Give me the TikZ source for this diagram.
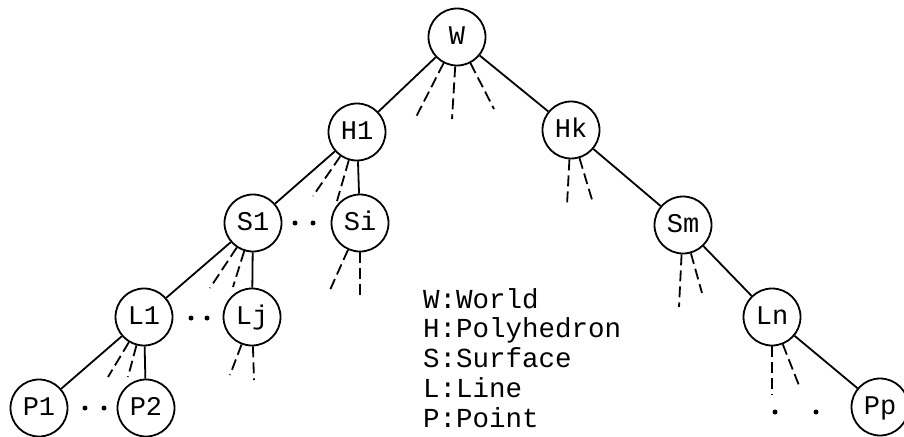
\documentclass[tikz,border=0pt]{standalone}
\usepackage{fontspec}
\setmonofont{Liberation Mono}
\usepackage{tikz}
\usetikzlibrary{positioning}

\tikzset{
    obj/.style={circle, draw, line width=1.8pt, minimum size=57pt, inner sep=0pt,
        text height=15pt, text depth=0pt, font=\ttfamily\fontsize{27}{27}\selectfont},
    link/.style={line width=1.8pt},
    more/.style={line width=1.8pt, dash pattern=on 11pt off 5pt},
    dotmark/.style={circle, fill, inner sep=0pt, minimum size=5pt}
}

\begin{document}
\begin{tikzpicture}[x=1pt, y=-1pt]
    \useasboundingbox (0,0) rectangle (904,436);

    % Objects
    \node[obj] (W)  at (457,37)  {W};
    \node[obj] (H1) at (357,132) {H1};
    \node[obj] (Hk) at (571,130) {Hk};
    \node[obj] (S1) at (253,223) {S1};
    \node[obj] (Si) at (360,223) {Si};
    \node[obj] (Sm) at (683,225) {Sm};
    \node[obj] (L1) at (144,317) {L1};
    \node[obj] (Lj) at (252,317) {Lj};
    \node[obj] (Ln) at (772,317) {Ln};
    \node[obj] (P1) at (39,408)  {P1};
    \node[obj] (P2) at (146,408) {P2};
    \node[obj] (Pp) at (880,407) {Pp};

    % Links
    \draw[link] (W) -- (H1);
    \draw[link] (W) -- (Hk);
    \draw[link] (H1) -- (S1);
    \draw[link] (H1) -- (Si);
    \draw[link] (S1) -- (L1);
    \draw[link] (S1) -- (Lj);
    \draw[link] (L1) -- (P1);
    \draw[link] (L1) -- (P2);
    \draw[link] (Hk) -- (Sm);
    \draw[link] (Sm) -- (Ln);
    \draw[link] (Ln) -- (Pp);

    % Other children
    \coordinate (w1) at (416,117);
    \coordinate (w2) at (452,119);
    \coordinate (w3) at (494,109);
    \coordinate (h1) at (313,196);
    \coordinate (h2) at (337,201);
    \coordinate (hk1) at (567,205);
    \coordinate (hk2) at (593,203);
    \coordinate (s1) at (210,288);
    \coordinate (s2) at (233,287);
    \coordinate (si1) at (330,290);
    \coordinate (si2) at (360,295);
    \coordinate (sm1) at (679,307);
    \coordinate (sm2) at (702,293);
    \coordinate (l1) at (108,377);
    \coordinate (l2) at (128,377);
    \coordinate (lj1) at (230,375);
    \coordinate (lj2) at (254,380);
    \coordinate (ln1) at (772,395);
    \coordinate (ln2) at (800,388);
    \draw[more] (W) -- (w1);
    \draw[more] (W) -- (w2);
    \draw[more] (W) -- (w3);
    \draw[more] (H1) -- (h1);
    \draw[more] (H1) -- (h2);
    \draw[more] (Hk) -- (hk1);
    \draw[more] (Hk) -- (hk2);
    \draw[more] (S1) -- (s1);
    \draw[more] (S1) -- (s2);
    \draw[more] (Si) -- (si1);
    \draw[more] (Si) -- (si2);
    \draw[more] (Sm) -- (sm1);
    \draw[more] (Sm) -- (sm2);
    \draw[more] (L1) -- (l1);
    \draw[more] (L1) -- (l2);
    \draw[more] (Lj) -- (lj1);
    \draw[more] (Lj) -- (lj2);
    \draw[more] (Ln) -- (ln1);
    \draw[more] (Ln) -- (ln2);

    % Dots
    \node[dotmark] (d1) at (295,223) {};
    \node[dotmark] (d2) at (313,223) {};
    \node[dotmark] (d3) at (191,318) {};
    \node[dotmark] (d4) at (207,318) {};
    \node[dotmark] (d5) at (85,408)  {};
    \node[dotmark] (d6) at (104,408) {};
    \node[dotmark] (d7) at (775,412) {};
    \node[dotmark] (d8) at (816,412) {};

    % Key
    \node[anchor=base west, align=left, inner sep=0pt,
        font=\ttfamily\fontsize{27.5}{29.7}\selectfont] (key) at (423,427)
        {W:World\\H:Polyhedron\\S:Surface\\L:Line\\P:Point};
\end{tikzpicture}
\end{document}
